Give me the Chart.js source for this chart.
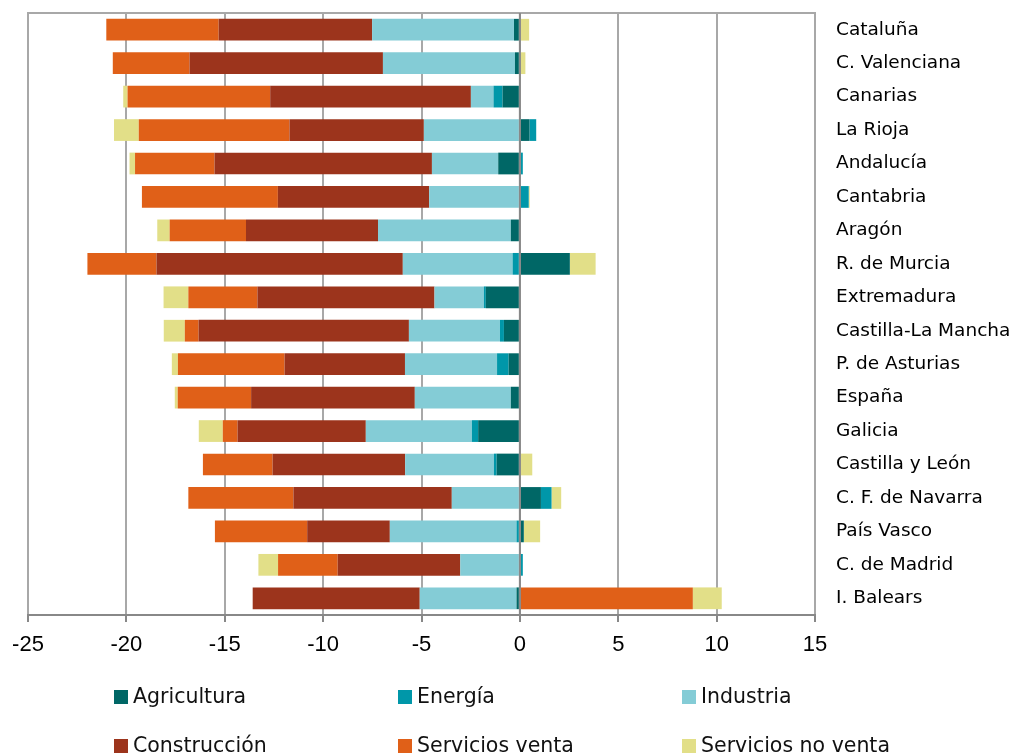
<!DOCTYPE html>
<html>
<head>
<meta charset="utf-8">
<script src="https://cdn.jsdelivr.net/npm/chart.js@4.4.1/dist/chart.umd.min.js"></script>
<style>
  body { margin: 0; background: #fff; }
  #wrap { position: relative; width: 1013px; height: 755px; overflow: hidden; }
  #legend { position: absolute; left: 0; top: 0; width: 1013px; height: 755px; pointer-events: none;
            font-family: "DejaVu Sans", sans-serif; font-size: 20.5px; color: #111; }
  .item { position: absolute; white-space: nowrap; line-height: 24px; }
  .item span { display: inline-block; width: 14px; height: 14px; margin-right: 5px; vertical-align: -1px; }
</style>
</head>
<body>
<div id="wrap">
  <canvas id="chart" width="1013" height="755"></canvas>
  <div id="legend"></div>
</div>
<script>
const categories = ['Cataluña', 'C. Valenciana', 'Canarias', 'La Rioja', 'Andalucía', 'Cantabria', 'Aragón',
  'R. de Murcia', 'Extremadura', 'Castilla-La Mancha', 'P. de Asturias', 'España', 'Galicia',
  'Castilla y León', 'C. F. de Navarra', 'País Vasco', 'C. de Madrid', 'I. Balears'];

const agricultura      = [-0.30, -0.25, -0.88, 0.49, -1.10, 0.00, -0.46, 2.54, -1.73, -0.81, -0.57, -0.46, -2.12, -1.18, 1.07, 0.20, 0.00, -0.17];
const energia          = [0.00, 0.00, -0.46, 0.34, 0.15, 0.45, 0.00, -0.37, -0.10, -0.20, -0.59, 0.00, -0.32, -0.14, 0.54, -0.17, 0.15, 0.00];
const industria        = [-7.21, -6.71, -1.15, -4.88, -3.37, -4.61, -6.75, -5.58, -2.51, -4.63, -4.68, -4.88, -5.39, -4.51, -3.46, -6.44, -3.03, -4.92];
const construccion     = [-7.80, -9.83, -10.20, -6.83, -11.05, -7.69, -6.71, -12.52, -9.00, -10.69, -6.12, -8.32, -6.52, -6.74, -8.05, -4.20, -6.23, -8.49];
const serviciosVenta   = [-5.71, -3.90, -7.25, -7.66, -4.04, -6.91, -3.88, -3.51, -3.51, -0.70, -5.42, -3.73, -0.75, -3.54, -5.34, -4.69, -3.03, 8.79];
const serviciosNoVenta = [0.47, 0.28, -0.22, -1.26, -0.28, 0.05, -0.63, 1.31, -1.26, -1.07, -0.31, -0.15, -1.22, 0.63, 0.49, 0.83, -1.00, 1.47];

const xTicks = [-25, -20, -15, -10, -5, 0, 5, 10, 15];

const series = [
  { label: 'Agricultura', data: agricultura, color: '#006766' },
  { label: 'Energía', data: energia, color: '#0097a9' },
  { label: 'Industria', data: industria, color: '#84ccd6' },
  { label: 'Construcción', data: construccion, color: '#9c341c' },
  { label: 'Servicios venta', data: serviciosVenta, color: '#e06018' },
  { label: 'Servicios no venta', data: serviciosNoVenta, color: '#e2df88' }
];

// frame round the plot and the zero line on top of the bars
const framePlugin = {
  id: 'frame',
  afterDatasetsDraw(chart) {
    const { ctx, chartArea: a, scales: { x } } = chart;
    ctx.save();
    ctx.lineWidth = 2;
    ctx.strokeStyle = '#a8a8a8';
    ctx.beginPath();
    ctx.moveTo(a.left, a.bottom);
    ctx.lineTo(a.left, a.top);
    ctx.lineTo(a.right, a.top);
    ctx.lineTo(a.right, a.bottom);
    ctx.stroke();
    ctx.strokeStyle = '#888888';
    ctx.beginPath();
    ctx.moveTo(a.left - 1, a.bottom);
    ctx.lineTo(a.right + 1, a.bottom);
    const x0 = x.getPixelForValue(0);
    ctx.moveTo(x0, a.top);
    ctx.lineTo(x0, a.bottom);
    ctx.stroke();
    ctx.restore();
  }
};

document.addEventListener('DOMContentLoaded', function () {
  const ctx = document.getElementById('chart').getContext('2d');

  new Chart(ctx, {
    type: 'bar',
    data: {
      labels: categories,
      datasets: series.map(s => ({
        label: s.label,
        data: s.data,
        backgroundColor: s.color,
        borderWidth: 0,
        barPercentage: 1,
        categoryPercentage: 0.65
      }))
    },
    options: {
      indexAxis: 'y',
      responsive: false,
      animation: false,
      layout: { padding: { left: 28, top: 13, right: 0, bottom: 90 } },
      plugins: {
        legend: { display: false },
        tooltip: { enabled: false }
      },
      scales: {
        x: {
          stacked: true,
          min: -25,
          max: 15,
          afterBuildTicks: axis => { axis.ticks = xTicks.map(v => ({ value: v })); },
          afterFit: axis => { axis.height = 50; },
          grid: {
            color: '#a8a8a8',
            lineWidth: 2,
            drawTicks: true,
            tickLength: 7,
            tickColor: '#888888'
          },
          border: { display: false },
          ticks: {
            color: '#000',
            padding: 10,
            maxRotation: 0,
            font: { family: 'Liberation Sans', size: 22 }
          }
        },
        y: {
          stacked: true,
          position: 'right',
          afterFit: axis => {
            axis.width = 198;
            axis.paddingTop = 0;
            axis.paddingBottom = 0;
          },
          grid: { display: false, drawTicks: false },
          border: { display: false },
          ticks: {
            color: '#000',
            padding: 21,
            font: { family: 'DejaVu Sans', size: 18.5 }
          }
        }
      }
    },
    plugins: [framePlugin]
  });

  // legend in three columns, two rows
  const cols = [114, 398, 682];
  const rows = [684, 733];
  const legend = document.getElementById('legend');
  series.forEach((s, i) => {
    const el = document.createElement('div');
    el.className = 'item';
    el.style.left = cols[i % 3] + 'px';
    el.style.top = rows[Math.floor(i / 3)] + 'px';
    el.innerHTML = '<span style="background:' + s.color + '"></span>' + s.label;
    legend.appendChild(el);
  });
});
</script>
</body>
</html>
